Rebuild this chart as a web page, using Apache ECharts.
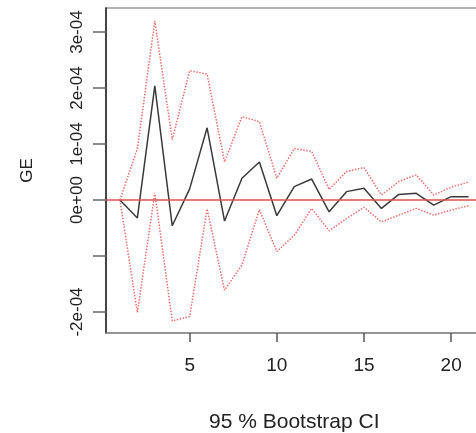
<!DOCTYPE html>
<html>
<head>
<meta charset="utf-8">
<script src="https://cdn.jsdelivr.net/npm/echarts@6/dist/echarts.min.js"></script>
<style>
  html, body { margin: 0; padding: 0; background: #fff; }
  #chart { width: 476px; height: 433px; }
</style>
</head>
<body>
<div id="chart"></div>
<script>
// horizon (steps) and the impulse response with its bootstrap band
const steps = [1, 2, 3, 4, 5, 6, 7, 8, 9, 10, 11, 12, 13, 14, 15, 16, 17, 18, 19, 20, 21];
const irf = [0, -0.32e-4, 2.04e-4, -0.46e-4, 0.2e-4, 1.29e-4, -0.375e-4, 0.39e-4, 0.68e-4, -0.28e-4,
  0.24e-4, 0.375e-4, -0.21e-4, 0.15e-4, 0.21e-4, -0.15e-4, 0.1e-4, 0.12e-4, -0.09e-4, 0.06e-4, 0.06e-4];
const upper = [0, 0.92e-4, 3.2e-4, 1.08e-4, 2.31e-4, 2.25e-4, 0.68e-4, 1.49e-4, 1.4e-4, 0.39e-4,
  0.92e-4, 0.87e-4, 0.19e-4, 0.51e-4, 0.58e-4, 0.09e-4, 0.33e-4, 0.45e-4, 0.09e-4, 0.23e-4, 0.32e-4];
const lower = [0, -2.01e-4, 0.13e-4, -2.16e-4, -2.08e-4, -0.16e-4, -1.61e-4, -1.16e-4, -0.17e-4, -0.92e-4,
  -0.63e-4, -0.15e-4, -0.55e-4, -0.33e-4, -0.13e-4, -0.39e-4, -0.27e-4, -0.15e-4, -0.27e-4, -0.18e-4, -0.1e-4];

const xTicks = [5, 10, 15, 20];
const yTicks = [-2e-4, -1e-4, 0, 1e-4, 2e-4, 3e-4];
const yLabels = [-2e-4, 0, 1e-4, 2e-4, 3e-4]; // R drops -1e-04, it would overlap

const FONT = 'Liberation Sans, Arial, sans-serif';

function pair(ys) {
  return steps.map((x, i) => [x, ys[i]]);
}

// R style exponent: 3e-04, 0e+00
function rExp(v) {
  if (Math.abs(v) < 1e-12) return '0e+00';
  const parts = v.toExponential(0).split('e');
  const sign = parts[1][0];
  let ex = parts[1].slice(1);
  if (ex.length < 2) ex = '0' + ex;
  return parts[0] + 'e' + sign + ex;
}

const chart = echarts.init(document.getElementById('chart'), null, { renderer: 'canvas' });

chart.setOption({
  animation: false,
  backgroundColor: '#fff',
  grid: {
    left: 106, top: 8, right: -6.5, bottom: 100,
    show: true, borderColor: '#9a9a9a', borderWidth: 1.5,
    containLabel: false, outerBoundsMode: 'none'
  },
  xAxis: {
    type: 'value',
    min: 0.2, max: 21.8,
    name: '95 % Bootstrap CI',
    nameLocation: 'middle',
    nameGap: 79,
    nameTextStyle: { fontFamily: FONT, fontSize: 21, color: '#222' },
    axisLine: { show: true, onZero: false, lineStyle: { color: '#8a8a8a', width: 1.5 } },
    axisTick: { show: true, length: 9, lineStyle: { color: '#555', width: 1.5 }, customValues: xTicks },
    axisLabel: { fontFamily: FONT, fontSize: 19, color: '#222', margin: 23, customValues: xTicks },
    splitLine: { show: false }
  },
  yAxis: {
    type: 'value',
    min: -2.375e-4, max: 3.43e-4,
    name: 'GE',
    nameLocation: 'middle',
    nameGap: 70,
    nameRotate: 90,
    nameTextStyle: { fontFamily: FONT, fontSize: 17, color: '#222' },
    axisLine: { show: true, onZero: false, lineStyle: { color: '#222', width: 1.5 } },
    axisTick: { show: true, length: 13, lineStyle: { color: '#666', width: 1.5 }, customValues: yTicks },
    axisLabel: {
      fontFamily: FONT, fontSize: 17, color: '#222', rotate: 90, margin: 20,
      customValues: yLabels, formatter: rExp
    },
    splitLine: { show: false }
  },
  series: [
    {
      type: 'line', data: pair(upper), symbol: 'none',
      lineStyle: { color: '#ec6f6f', width: 1.5, type: 'dotted' }
    },
    {
      type: 'line', data: pair(lower), symbol: 'none',
      lineStyle: { color: '#ec6f6f', width: 1.5, type: 'dotted' }
    },
    {
      type: 'line', data: pair(irf), symbol: 'none',
      lineStyle: { color: '#3a3a3a', width: 1.5 },
      markLine: {
        silent: true, symbol: 'none', label: { show: false },
        lineStyle: { color: '#e05050', width: 1.5, type: 'solid' },
        data: [{ yAxis: 0 }]
      }
    }
  ]
});
</script>
</body>
</html>
